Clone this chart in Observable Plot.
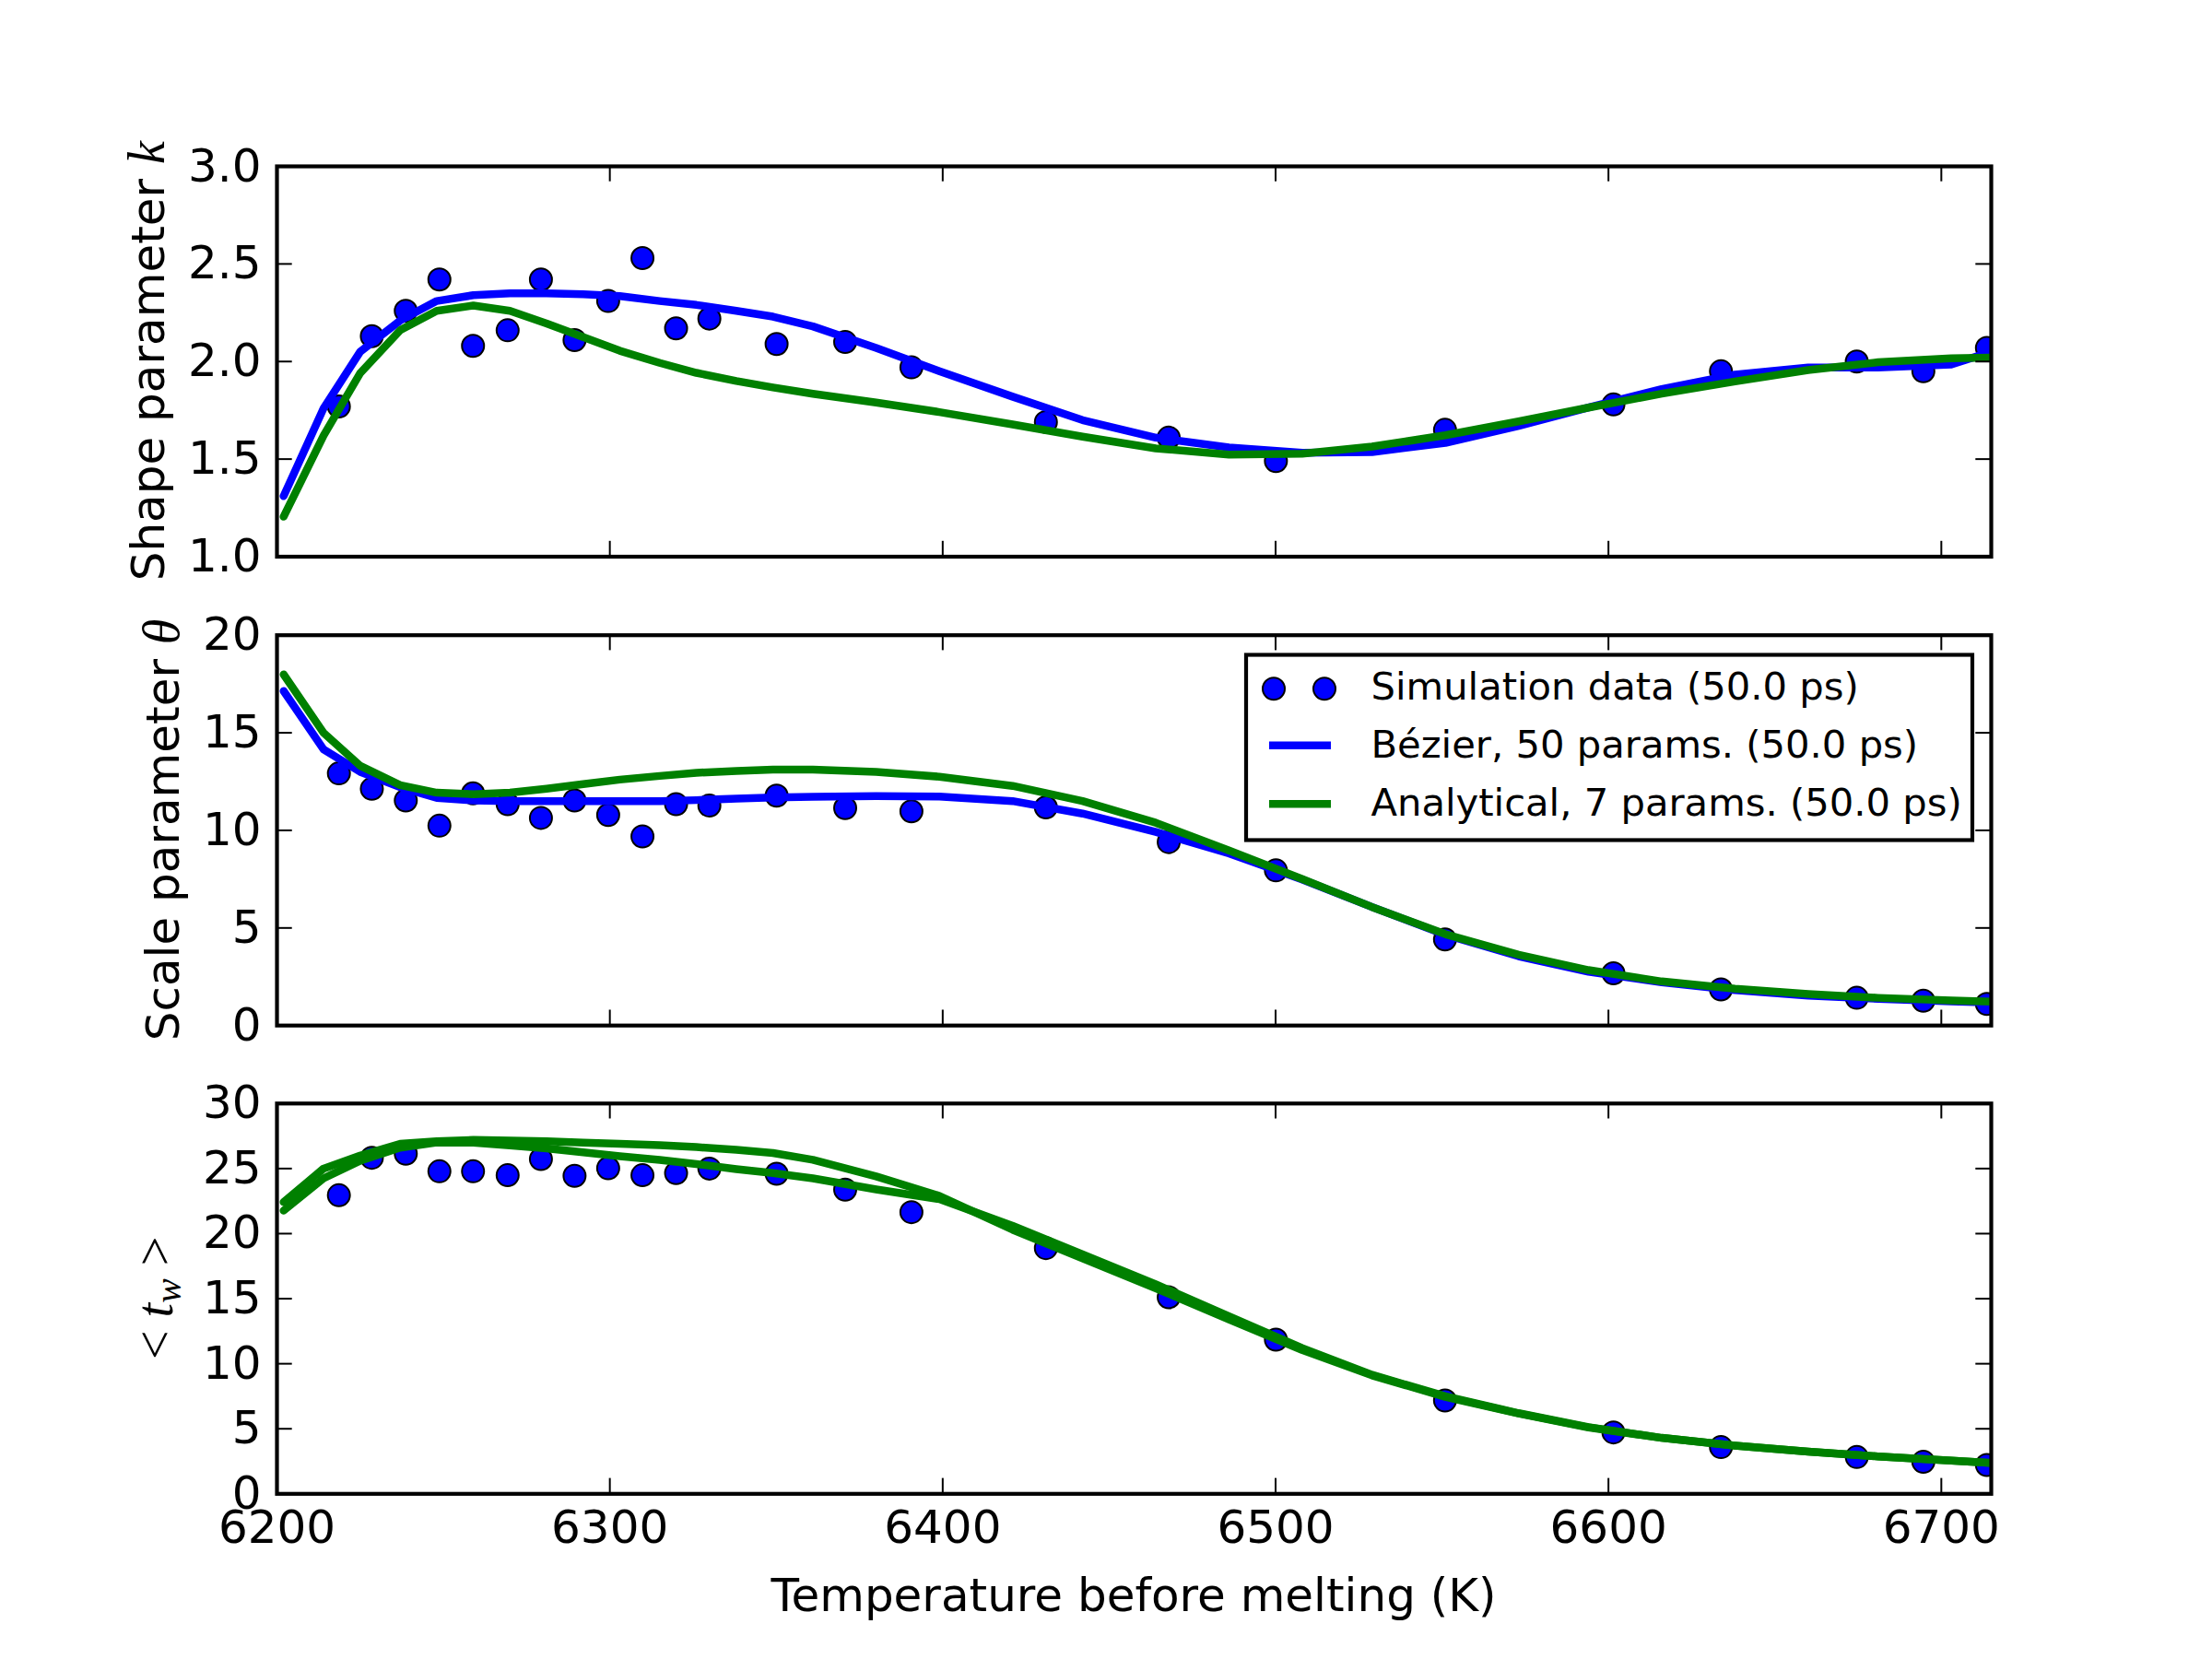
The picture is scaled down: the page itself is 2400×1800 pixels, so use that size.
<!DOCTYPE html>
<html><head><meta charset="utf-8">
<script src="https://cdn.jsdelivr.net/npm/d3@7"></script>
<script src="https://cdn.jsdelivr.net/npm/@observablehq/plot@0.6"></script>
<style>
body{margin:0;background:#fff;}
#chart{position:relative;width:2400px;height:1800px;background:#fff;overflow:hidden;}
#chart svg{position:absolute;left:0;}
</style></head><body><div id="chart"></div>
<script>
// Simulation data points
const temperature = [6218.6, 6228.5, 6238.7, 6248.8, 6258.9, 6269.3, 6279.3, 6289.4, 6299.5, 6309.8, 6319.9, 6329.9, 6350.1, 6370.7, 6390.6, 6431.0, 6467.9, 6500.1, 6550.9, 6601.5, 6633.8, 6674.6, 6694.6, 6713.7];
const shapeK = [1.77, 2.13, 2.26, 2.42, 2.08, 2.16, 2.42, 2.11, 2.31, 2.53, 2.17, 2.22, 2.09, 2.10, 1.97, 1.69, 1.61, 1.49, 1.65, 1.78, 1.95, 2.00, 1.95, 2.07];
const scaleTheta = [12.92, 12.13, 11.53, 10.24, 11.90, 11.34, 10.64, 11.53, 10.79, 9.69, 11.34, 11.27, 11.78, 11.14, 10.98, 11.18, 9.40, 7.95, 4.41, 2.68, 1.85, 1.42, 1.27, 1.11];
const meanTw = [22.95, 25.83, 26.14, 24.79, 24.79, 24.49, 25.73, 24.44, 25.03, 24.49, 24.65, 25.00, 24.60, 23.38, 21.65, 18.89, 15.11, 11.85, 7.18, 4.72, 3.59, 2.83, 2.46, 2.22];

// Fitted curves
const curveT = [6202, 6214, 6225, 6237, 6248, 6259, 6270, 6281, 6292, 6303, 6315, 6326, 6338, 6349, 6361, 6380, 6399, 6421, 6442, 6464, 6486, 6508, 6529, 6551, 6573, 6594, 6616, 6638, 6660, 6681, 6703, 6715];
const kBezier = [1.31, 1.76, 2.05, 2.21, 2.31, 2.34, 2.35, 2.35, 2.345, 2.335, 2.31, 2.29, 2.26, 2.23, 2.18, 2.07, 1.95, 1.82, 1.70, 1.61, 1.56, 1.533, 1.536, 1.583, 1.67, 1.764, 1.859, 1.933, 1.969, 1.969, 1.985, 2.05];
const kAnalytical = [1.205, 1.62, 1.94, 2.16, 2.26, 2.287, 2.26, 2.195, 2.125, 2.055, 1.993, 1.942, 1.90, 1.867, 1.835, 1.79, 1.741, 1.678, 1.615, 1.555, 1.523, 1.528, 1.564, 1.622, 1.693, 1.764, 1.835, 1.898, 1.956, 1.996, 2.016, 2.02];
const thetaBezier = [17.14, 14.15, 13.0, 12.21, 11.66, 11.53, 11.50, 11.50, 11.50, 11.50, 11.50, 11.55, 11.63, 11.68, 11.72, 11.76, 11.73, 11.50, 10.86, 9.92, 8.82, 7.48, 6.07, 4.65, 3.55, 2.76, 2.21, 1.82, 1.53, 1.37, 1.24, 1.18];
const thetaAnalytical = [17.99, 15.0, 13.31, 12.32, 11.93, 11.85, 11.93, 12.13, 12.37, 12.60, 12.79, 12.95, 13.04, 13.11, 13.11, 13.0, 12.75, 12.28, 11.50, 10.39, 8.97, 7.51, 6.07, 4.68, 3.63, 2.84, 2.26, 1.89, 1.61, 1.42, 1.28, 1.22];
const twBezier = [22.43, 25.0, 26.0, 26.9, 27.1, 27.2, 27.15, 27.1, 27.0, 26.9, 26.8, 26.65, 26.45, 26.2, 25.67, 24.4, 22.9, 20.3, 18.1, 15.8, 13.4, 11.05, 9.1, 7.45, 6.17, 5.1, 4.3, 3.71, 3.24, 2.88, 2.55, 2.38];
const twAnalytical = [21.77, 24.25, 25.6, 26.6, 27.0, 27.0, 26.78, 26.55, 26.25, 25.95, 25.67, 25.35, 24.96, 24.65, 24.25, 23.4, 22.65, 20.6, 18.4, 16.1, 13.65, 11.2, 9.15, 7.5, 6.2, 5.13, 4.3, 3.71, 3.24, 2.88, 2.55, 2.38];

// Ticks
const xTicks = [6200, 6300, 6400, 6500, 6600, 6700];
const kTicks = [1.0, 1.5, 2.0, 2.5, 3.0];
const thetaTicks = [0, 5, 10, 15, 20];
const twTicks = [0, 5, 10, 15, 20, 25, 30];

const legendLabels = ["Simulation data (50.0 ps)", "Bézier, 50 params. (50.0 ps)", "Analytical, 7 params. (50.0 ps)"];

const BLUE = "#0000ff", GREEN = "#008000";
const W = 2400, LEFT = 300, RIGHT = 2160, FRAME_H = 423.5, TL = 16.7;
const FONT = "DejaVu Sans";
const chart = document.getElementById("chart");

function panel({top, mt, mb, yDomain, yTicks, yFmt, dots, curves, showX}) {
  const pts = temperature.map((t, i) => ({t, v: dots[i]}));
  const marks = [
    Plot.dot(pts, {x: "t", y: "v", r: 12, fill: BLUE, stroke: "black", strokeWidth: 2, clip: true}),
    ...curves.map(c => Plot.line(curveT.map((t, i) => ({t, v: c.values[i]})), {x: "t", y: "v", stroke: c.color, strokeWidth: 8.5, clip: true})),
    Plot.tickX(xTicks, {x: d => d, insetTop: FRAME_H - TL, stroke: "black", strokeWidth: 2}),
    Plot.tickX(xTicks, {x: d => d, insetBottom: FRAME_H - TL, stroke: "black", strokeWidth: 2}),
    Plot.tickY(yTicks, {y: d => d, insetRight: (RIGHT - LEFT) - TL, stroke: "black", strokeWidth: 2}),
    Plot.tickY(yTicks, {y: d => d, insetLeft: (RIGHT - LEFT) - TL, stroke: "black", strokeWidth: 2}),
    Plot.frame({stroke: "black", strokeWidth: 4.2}),
    Plot.axisY(yTicks, {tickSize: 0, tickPadding: 17, tickFormat: yFmt, label: null})
  ];
  if (showX) marks.push(Plot.axisX(xTicks, {tickSize: 0, tickPadding: 18, tickFormat: d => String(d), label: null}));
  const svg = Plot.plot({
    width: W, height: mt + FRAME_H + mb,
    marginLeft: LEFT, marginRight: W - RIGHT, marginTop: mt, marginBottom: mb,
    x: {domain: [6200, 6715], axis: showX ? undefined : null},
    y: {domain: yDomain, axis: null},
    style: {fontFamily: FONT, fontSize: "50px", color: "black", background: "transparent", overflow: "visible"},
    marks
  });
  svg.style.top = top + "px";
  chart.appendChild(svg);
  return svg;
}

function yLabel(svg, top, x, yc, parts) {
  const t = d3.select(svg).append("text")
    .attr("transform", `translate(${x},${yc - top}) rotate(-90)`)
    .attr("text-anchor", "middle").attr("font-family", FONT).attr("font-size", 50).attr("fill", "black");
  for (const p of parts) {
    const s = t.append("tspan").text(p.text);
    if (p.math) s.attr("font-family", "Liberation Serif").attr("font-size", 56);
    if (p.italic) s.attr("font-style", "italic");
    if (p.size) s.attr("font-size", p.size);
    if (p.dy) s.attr("dy", p.dy);
  }
}

const top1 = 0, top2 = 645.5, top3 = 1153.7;
const s1 = panel({top: top1, mt: 180, mb: 42, yDomain: [1, 3], yTicks: kTicks, yFmt: d3.format(".1f"), dots: shapeK,
  curves: [{values: kBezier, color: BLUE}, {values: kAnalytical, color: GREEN}], showX: false});
const s2 = panel({top: top2, mt: 42.7, mb: 42, yDomain: [0, 20], yTicks: thetaTicks, yFmt: d3.format("d"), dots: scaleTheta,
  curves: [{values: thetaBezier, color: BLUE}, {values: thetaAnalytical, color: GREEN}], showX: false});
const s3 = panel({top: top3, mt: 42.8, mb: 180, yDomain: [0, 30], yTicks: twTicks, yFmt: d3.format("d"), dots: meanTw,
  curves: [{values: twBezier, color: GREEN}, {values: twAnalytical, color: GREEN}], showX: true});

yLabel(s1, top1, 178, 391.75, [{text: "Shape parameter "}, {text: "k", math: true, italic: true}]);
yLabel(s2, top2, 194, 900, [{text: "Scale parameter "}, {text: "θ", math: true, italic: true}]);
yLabel(s3, top3, 187, 1408, [{text: "<", math: true}, {text: " t", math: true, italic: true}, {text: "w", math: true, italic: true, size: 40, dy: 9}, {text: " >", math: true, dy: -9}]);

// x label
d3.select(s3).append("text").attr("x", 1230).attr("y", 1748 - top3)
  .attr("text-anchor", "middle").attr("font-family", FONT).attr("font-size", 50).attr("fill", "black")
  .text("Temperature before melting (K)");

// Legend (in panel 2)
const lg = d3.select(s2).append("g").attr("transform", `translate(0,${-top2})`);
lg.append("rect").attr("x", 1352).attr("y", 710).attr("width", 788).attr("height", 201)
  .attr("fill", "white").attr("stroke", "black").attr("stroke-width", 4.2);
[1382, 1437].forEach(cx => lg.append("circle").attr("cx", cx).attr("cy", 746.7).attr("r", 12)
  .attr("fill", BLUE).attr("stroke", "black").attr("stroke-width", 2));
lg.append("line").attr("x1", 1377).attr("x2", 1444).attr("y1", 808.3).attr("y2", 808.3).attr("stroke", BLUE).attr("stroke-width", 8.5);
lg.append("line").attr("x1", 1377).attr("x2", 1444).attr("y1", 871.7).attr("y2", 871.7).attr("stroke", GREEN).attr("stroke-width", 8.5);
const baselines = [758.3, 821.7, 885];
legendLabels.forEach((s, i) => lg.append("text").attr("x", 1487.5).attr("y", baselines[i])
  .attr("text-anchor", "start")
  .attr("font-family", FONT).attr("font-size", 41.7).attr("fill", "black").text(s));
</script></body></html>
